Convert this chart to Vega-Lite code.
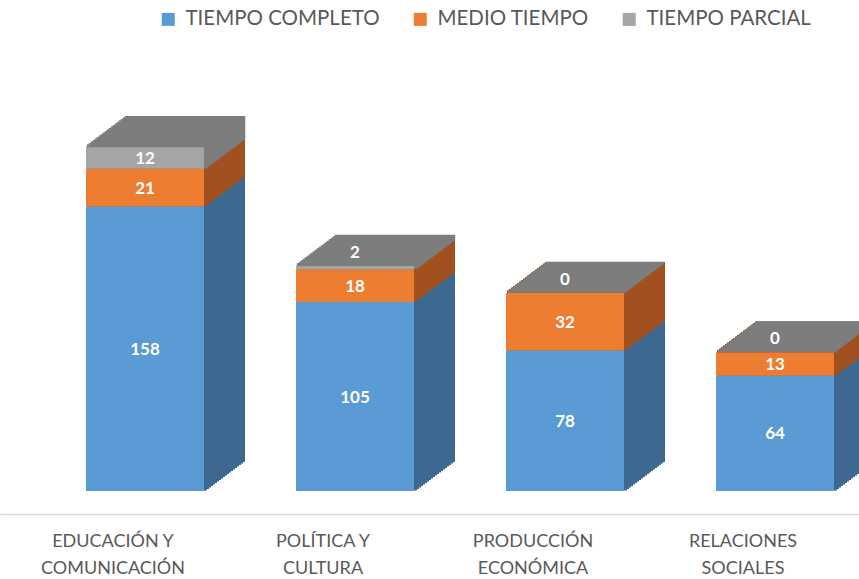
{
  "$schema": "https://vega.github.io/schema/vega-lite/v6.json",
  "width": 859,
  "height": 491,
  "padding": {"left": 0, "top": 0, "right": 0, "bottom": 88},
  "autosize": {"type": "none"},
  "background": "white",
  "config": {"view": {"stroke": null}, "axis": {"grid": false}},
  "data": {"values": [
    {"categoria": "EDUCACIÓN Y COMUNICACIÓN", "tipo": "TIEMPO COMPLETO", "valor": 158, "orden": 1},
    {"categoria": "EDUCACIÓN Y COMUNICACIÓN", "tipo": "MEDIO TIEMPO", "valor": 21, "orden": 2},
    {"categoria": "EDUCACIÓN Y COMUNICACIÓN", "tipo": "TIEMPO PARCIAL", "valor": 12, "orden": 3},
    {"categoria": "POLÍTICA Y CULTURA", "tipo": "TIEMPO COMPLETO", "valor": 105, "orden": 1},
    {"categoria": "POLÍTICA Y CULTURA", "tipo": "MEDIO TIEMPO", "valor": 18, "orden": 2},
    {"categoria": "POLÍTICA Y CULTURA", "tipo": "TIEMPO PARCIAL", "valor": 2, "orden": 3},
    {"categoria": "PRODUCCIÓN ECONÓMICA", "tipo": "TIEMPO COMPLETO", "valor": 78, "orden": 1},
    {"categoria": "PRODUCCIÓN ECONÓMICA", "tipo": "MEDIO TIEMPO", "valor": 32, "orden": 2},
    {"categoria": "PRODUCCIÓN ECONÓMICA", "tipo": "TIEMPO PARCIAL", "valor": 0, "orden": 3},
    {"categoria": "RELACIONES SOCIALES", "tipo": "TIEMPO COMPLETO", "valor": 64, "orden": 1},
    {"categoria": "RELACIONES SOCIALES", "tipo": "MEDIO TIEMPO", "valor": 13, "orden": 2},
    {"categoria": "RELACIONES SOCIALES", "tipo": "TIEMPO PARCIAL", "valor": 0, "orden": 3}
  ]},
  "encoding": {
    "x": {
      "field": "categoria", "type": "nominal", "sort": null,
      "scale": {"paddingInner": 0, "paddingOuter": 0.04524, "align": 0.421},
      "axis": {
        "title": null, "orient": "bottom", "offset": 23,
        "domainColor": "#d9d9d9", "domainWidth": 1.5, "ticks": false,
        "labelAngle": 0, "labelFont": "Lato", "labelFontSize": 18, "labelColor": "#595959",
        "labelPadding": 18, "labelLineHeight": 27,
        "labelExpr": "indexof(datum.label, ' Y ') >= 0 ? split(replace(datum.label, ' Y ', ' Y|'), '|') : split(datum.label, ' ')"
      }
    },
    "y": {
      "field": "valor", "type": "quantitative", "stack": "zero",
      "scale": {"domain": [0, 272.78], "nice": false, "zero": true},
      "axis": null
    },
    "order": {"field": "orden", "type": "quantitative"}
  },
  "layer": [
    {
      "encoding": {
        "fill": {"field": "orden", "type": "nominal", "legend": null,
          "scale": {"domain": [1, 2, 3], "range": ["#3d6890", "#a0511f", "#7d7d7d"]}},
        "stroke": {"field": "orden", "type": "nominal", "legend": null,
          "scale": {"domain": [1, 2, 3], "range": ["#3d6890", "#a0511f", "#7d7d7d"]}}
      },
      "layer": [
        {"mark": {"type": "bar", "width": 118, "strokeWidth": 2, "xOffset": 72, "yOffset": -30}},
        {"mark": {"type": "bar", "width": 118, "strokeWidth": 2, "xOffset": 70, "yOffset": -28.5}},
        {"mark": {"type": "bar", "width": 118, "strokeWidth": 2, "xOffset": 68, "yOffset": -27}},
        {"mark": {"type": "bar", "width": 118, "strokeWidth": 2, "xOffset": 66, "yOffset": -25.5}},
        {"mark": {"type": "bar", "width": 118, "strokeWidth": 2, "xOffset": 64, "yOffset": -24}},
        {"mark": {"type": "bar", "width": 118, "strokeWidth": 2, "xOffset": 62, "yOffset": -22.5}},
        {"mark": {"type": "bar", "width": 118, "strokeWidth": 2, "xOffset": 60, "yOffset": -21}},
        {"mark": {"type": "bar", "width": 118, "strokeWidth": 2, "xOffset": 58, "yOffset": -19.5}},
        {"mark": {"type": "bar", "width": 118, "strokeWidth": 2, "xOffset": 56, "yOffset": -18}},
        {"mark": {"type": "bar", "width": 118, "strokeWidth": 2, "xOffset": 54, "yOffset": -16.5}},
        {"mark": {"type": "bar", "width": 118, "strokeWidth": 2, "xOffset": 52, "yOffset": -15}},
        {"mark": {"type": "bar", "width": 118, "strokeWidth": 2, "xOffset": 50, "yOffset": -13.5}},
        {"mark": {"type": "bar", "width": 118, "strokeWidth": 2, "xOffset": 48, "yOffset": -12}},
        {"mark": {"type": "bar", "width": 118, "strokeWidth": 2, "xOffset": 46, "yOffset": -10.5}},
        {"mark": {"type": "bar", "width": 118, "strokeWidth": 2, "xOffset": 44, "yOffset": -9}},
        {"mark": {"type": "bar", "width": 118, "strokeWidth": 2, "xOffset": 42, "yOffset": -7.5}},
        {"mark": {"type": "bar", "width": 118, "strokeWidth": 2, "xOffset": 40, "yOffset": -6}},
        {"mark": {"type": "bar", "width": 118, "strokeWidth": 2, "xOffset": 38, "yOffset": -4.5}},
        {"mark": {"type": "bar", "width": 118, "strokeWidth": 2, "xOffset": 36, "yOffset": -3}},
        {"mark": {"type": "bar", "width": 118, "strokeWidth": 2, "xOffset": 34, "yOffset": -1.5}}
      ]
    },
    {
      "transform": [
        {"stack": "valor", "groupby": ["categoria"], "sort": [{"field": "orden", "order": "ascending"}], "as": ["y_ini", "y_fin"]},
        {"filter": "datum.orden == 3"}
      ],
      "encoding": {
        "y": {"field": "y_ini", "type": "quantitative"},
        "y2": {"field": "y_fin"},
        "fill": {"field": "orden", "type": "nominal", "legend": null},
        "stroke": {"field": "orden", "type": "nominal", "legend": null}
      },
      "layer": [
        {"mark": {"type": "bar", "width": 118, "strokeWidth": 2.5, "xOffset": 72, "yOffset": -30, "y2Offset": -30}},
        {"mark": {"type": "bar", "width": 118, "strokeWidth": 2.5, "xOffset": 70, "yOffset": -28.5, "y2Offset": -28.5}},
        {"mark": {"type": "bar", "width": 118, "strokeWidth": 2.5, "xOffset": 68, "yOffset": -27, "y2Offset": -27}},
        {"mark": {"type": "bar", "width": 118, "strokeWidth": 2.5, "xOffset": 66, "yOffset": -25.5, "y2Offset": -25.5}},
        {"mark": {"type": "bar", "width": 118, "strokeWidth": 2.5, "xOffset": 64, "yOffset": -24, "y2Offset": -24}},
        {"mark": {"type": "bar", "width": 118, "strokeWidth": 2.5, "xOffset": 62, "yOffset": -22.5, "y2Offset": -22.5}},
        {"mark": {"type": "bar", "width": 118, "strokeWidth": 2.5, "xOffset": 60, "yOffset": -21, "y2Offset": -21}},
        {"mark": {"type": "bar", "width": 118, "strokeWidth": 2.5, "xOffset": 58, "yOffset": -19.5, "y2Offset": -19.5}},
        {"mark": {"type": "bar", "width": 118, "strokeWidth": 2.5, "xOffset": 56, "yOffset": -18, "y2Offset": -18}},
        {"mark": {"type": "bar", "width": 118, "strokeWidth": 2.5, "xOffset": 54, "yOffset": -16.5, "y2Offset": -16.5}},
        {"mark": {"type": "bar", "width": 118, "strokeWidth": 2.5, "xOffset": 52, "yOffset": -15, "y2Offset": -15}},
        {"mark": {"type": "bar", "width": 118, "strokeWidth": 2.5, "xOffset": 50, "yOffset": -13.5, "y2Offset": -13.5}},
        {"mark": {"type": "bar", "width": 118, "strokeWidth": 2.5, "xOffset": 48, "yOffset": -12, "y2Offset": -12}},
        {"mark": {"type": "bar", "width": 118, "strokeWidth": 2.5, "xOffset": 46, "yOffset": -10.5, "y2Offset": -10.5}},
        {"mark": {"type": "bar", "width": 118, "strokeWidth": 2.5, "xOffset": 44, "yOffset": -9, "y2Offset": -9}},
        {"mark": {"type": "bar", "width": 118, "strokeWidth": 2.5, "xOffset": 42, "yOffset": -7.5, "y2Offset": -7.5}},
        {"mark": {"type": "bar", "width": 118, "strokeWidth": 2.5, "xOffset": 40, "yOffset": -6, "y2Offset": -6}},
        {"mark": {"type": "bar", "width": 118, "strokeWidth": 2.5, "xOffset": 38, "yOffset": -4.5, "y2Offset": -4.5}},
        {"mark": {"type": "bar", "width": 118, "strokeWidth": 2.5, "xOffset": 36, "yOffset": -3, "y2Offset": -3}},
        {"mark": {"type": "bar", "width": 118, "strokeWidth": 2.5, "xOffset": 34, "yOffset": -1.5, "y2Offset": -1.5}}
      ]
    },
    {
      "mark": {"type": "bar", "width": 118, "xOffset": 32},
      "encoding": {
        "color": {
          "field": "tipo", "type": "nominal",
          "scale": {"domain": ["TIEMPO COMPLETO", "MEDIO TIEMPO", "TIEMPO PARCIAL"], "range": ["#5b9bd5", "#ed7d31", "#a5a5a5"]},
          "legend": {
            "title": null, "orient": "none", "direction": "horizontal",
            "legendX": 158, "legendY": 9,
            "symbolType": "square", "symbolSize": 170, "symbolStrokeWidth": 0,
            "labelFont": "Lato", "labelFontSize": 20.5, "labelColor": "#595959", "labelLimit": 400,
            "labelOffset": 7, "columnPadding": 30
          }
        }
      }
    },
    {
      "mark": {
        "type": "text", "xOffset": 32, "color": "white", "font": "Lato", "fontWeight": "bold", "fontSize": 17,
        "baseline": "middle",
        "yOffset": {"expr": "(datum.tipo == 'TIEMPO PARCIAL' && datum.valor < 5) ? -13 : (scale('y', 0) - scale('y', datum.valor)) / 2 + 1"}
      },
      "encoding": {
        "text": {"field": "valor", "type": "quantitative"}
      }
    }
  ]
}
